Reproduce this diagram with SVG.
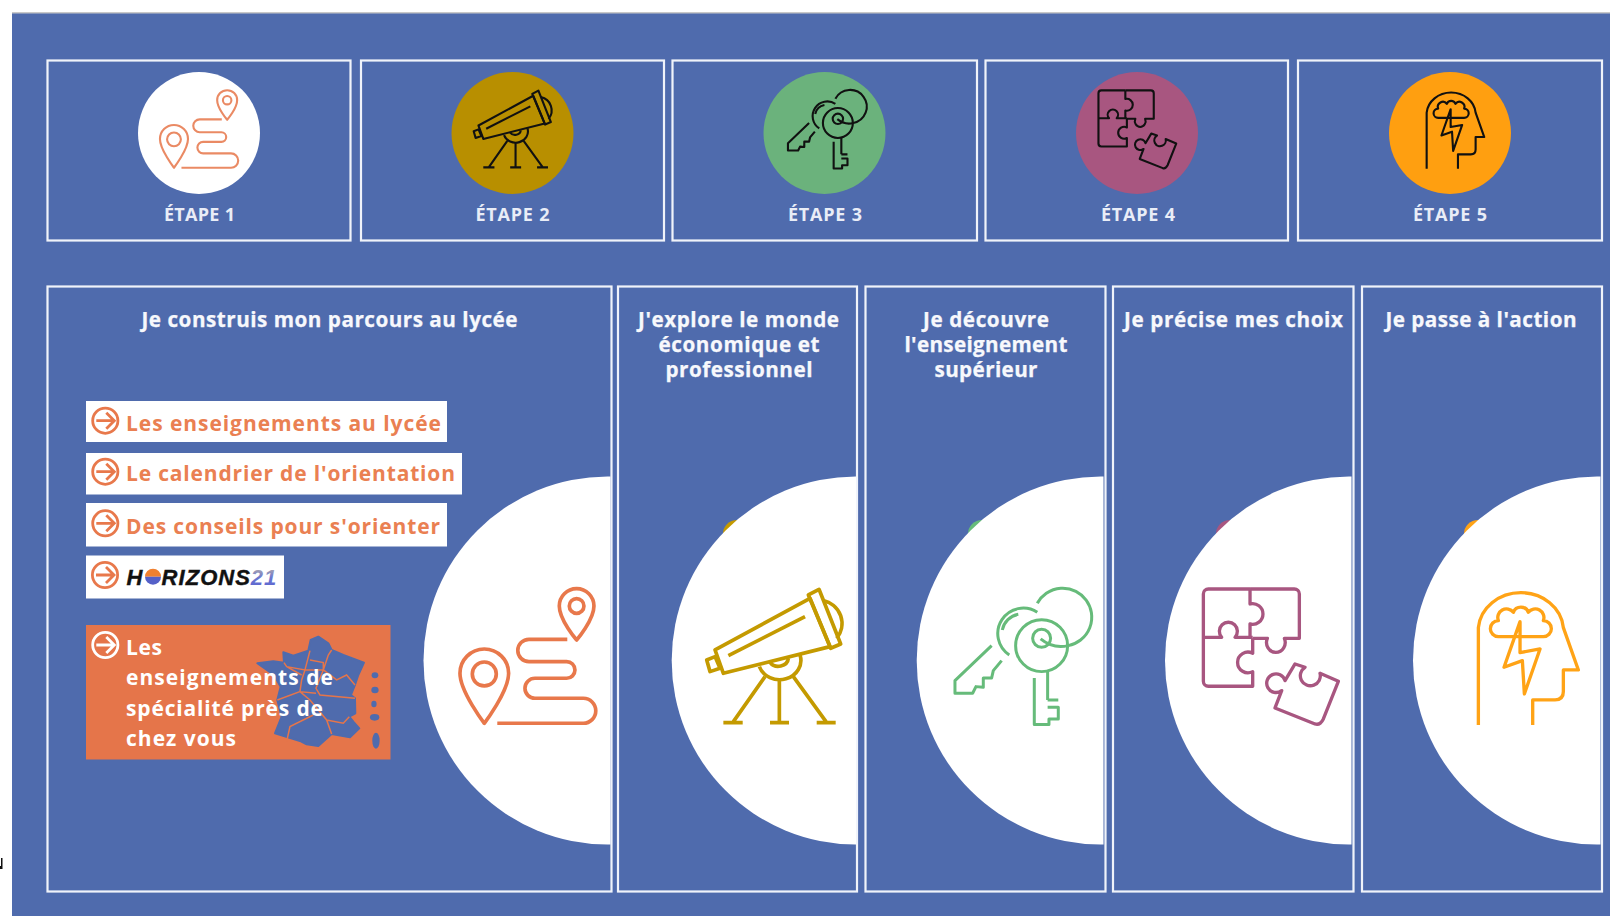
<svg xmlns="http://www.w3.org/2000/svg" width="1610" height="916" viewBox="0 0 1610 916">
<style>
.box{fill:none;stroke:#f0f3fa;stroke-width:2.2}
.step{font:700 18px "Open Sans","Liberation Sans",sans-serif;fill:#e9edf7;text-anchor:middle}
.title{font:700 20.700px "Open Sans","Liberation Sans",sans-serif;fill:#f7f8fc;text-anchor:middle;stroke:#f7f8fc;stroke-width:.25}
.item{font:700 21px "Open Sans","Liberation Sans",sans-serif;fill:#ea8052}
.itemw{font:700 21px "Open Sans","Liberation Sans",sans-serif;fill:#fff}
.ic{fill:none;stroke-width:11;stroke-linejoin:round;stroke-linecap:butt}
.logo{font:italic 700 22px "Liberation Sans",Arial,sans-serif;fill:#111;stroke:#111;stroke-width:.4}
.region{fill:none;stroke:#e5754a;stroke-width:4.500}
</style>
<defs>
<linearGradient id="g21" x1="0" y1="0" x2="0" y2="1"><stop offset="0" stop-color="#c9b9a0"/><stop offset=".5" stop-color="#6a78d0"/><stop offset="1" stop-color="#5a5fd0"/></linearGradient>
<g id="arrow" fill="none" stroke-width="2.800"><circle r="12.600"/><path d="M-9 0H8M1-8L9 0L1 8"/></g>
<g id="i-road">
<path d="M78 405C78 405 5 310 5 255A73 73 0 0 1 151 255C151 310 78 405 78 405Z"/><circle cx="78" cy="257" r="36"/>
<path d="M355 155C355 155 303 95 303 53A52 52 0 0 1 407 53C407 95 355 155 355 155Z"/><circle cx="355" cy="53" r="22"/>
<path d="M327 153H212A33.500 33.500 0 0 0 212 220H325A25 25 0 0 1 325 270H230A30 30 0 0 0 230 330H375A37.500 37.500 0 0 1 375 405H117"/>
</g>
<g id="i-tele">
<path d="M25 185L310 30L370 175L50 255Z"/><path d="M0 215L25 205L40 240L10 250Z"/><path d="M305 20L337 3L402 167L372 180Z"/>
<path d="M350 37A70 70 0 0 1 390 150"/><path d="M65 202L295 85"/>
<path d="M158 235A64 58 0 0 0 280 200"/><path d="M190 222A30 26 0 0 0 245 210"/>
<path d="M175 265L80 400M218 275V400M260 265L358 400M50 403H108M190 403H247M330 403H387"/>
</g>
<g id="i-keys">
<path d="M252 45A87 87 0 1 1 345 172C320 178 290 175 262 152"/>
<path d="M252 72A75 75 0 1 0 168 200"/><path d="M195 78A60 60 0 0 0 147 125"/>
<path d="M115 172L5 277V315H58L68 295L90 297V269H115L120 247L145 217"/>
<circle cx="265" cy="172" r="78"/><circle cx="265" cy="150" r="27"/>
<path d="M243 269V409H287V392H315V357H283M283 335H315M283 247V335"/>
</g>
<g id="i-puzz">
<path d="M145 2H278A15 15 0 0 1 293 17V150H248A28 30 0 1 1 197 150H153"/>
<path d="M145 2H20A15 15 0 0 0 5 17V279A15 15 0 0 0 20 294H153V250A31 31 0 1 1 153 195V150"/>
<path d="M145 2V47A31 31 0 1 1 145 107V150"/>
<path d="M5 147H60A27 27 0 1 1 100 147H153"/>
<path d="M250 277L280 227L310 237A30 30 0 1 0 355 255L410 279L365 392Q355 412 340 407L220 359L240 307A28 28 0 1 1 250 277Z"/>
</g>
<g id="i-head">
<path d="M5 410V118A128 115 0 0 1 260 118L305 245H260V310Q260 335 235 335H168V410"/>
<path d="M65 145A24 24 0 0 1 65 97A26 26 0 0 1 110 72A24 24 0 0 1 155 72A26 26 0 0 1 200 97A24 24 0 0 1 200 145Z"/>
<path d="M130 100L82 237L137 217L143 317L190 182L130 193Z"/>
</g>
</defs>

<rect width="1610" height="916" fill="#fff"/>
<rect x="12" y="13" width="1598" height="903" fill="#4f6bad"/>
<rect x="12" y="12" width="1598" height="1.500" fill="#c8c8c8"/>
<path d="M0 858H2.500V869H0V866H1V858H0Z" fill="#111"/>

<g id="step1"><rect class="box" x="47.500" y="60.500" width="303" height="180"/><circle cx="199" cy="133" r="61" fill="#fff"/><use href="#i-road" class="ic" stroke="#ea8a64" transform="translate(159 90) scale(.192)"/><text class="step" x="199.500" y="221" textLength="71">ÉTAPE 1</text></g>
<g id="step2"><rect class="box" x="361" y="60.500" width="303" height="180"/><circle cx="512.500" cy="133" r="61" fill="#b88f00"/><use href="#i-tele" class="ic" stroke="#111" transform="translate(473.700 90) scale(.192)"/><text class="step" x="512.500" y="221" textLength="74">ÉTAPE 2</text></g>
<g id="step3"><rect class="box" x="672.500" y="60.500" width="304.500" height="180"/><circle cx="824.500" cy="133" r="61" fill="#6bb27c"/><use href="#i-keys" class="ic" stroke="#111" transform="translate(787 90) scale(.192)"/><text class="step" x="825" y="221" textLength="74">ÉTAPE 3</text></g>
<g id="step4"><rect class="box" x="985.500" y="60.500" width="302.500" height="180"/><circle cx="1137" cy="133" r="61" fill="#a85680"/><use href="#i-puzz" class="ic" stroke="#111" transform="translate(1097.500 90) scale(.192)"/><text class="step" x="1138" y="221" textLength="74">ÉTAPE 4</text></g>
<g id="step5"><rect class="box" x="1298" y="60.500" width="304" height="180"/><circle cx="1450" cy="133" r="61" fill="#ff9f10"/><use href="#i-head" class="ic" stroke="#111" transform="translate(1425.700 90) scale(.192)"/><text class="step" x="1450" y="221" textLength="74">ÉTAPE 5</text></g>

<g id="panel1">
<rect class="box" x="47.500" y="286.500" width="564" height="605"/>
<path d="M610.500 476.500H607.500A184 184 0 0 0 607.500 844.500H610.500Z" fill="#fff"/>
<use href="#i-road" class="ic" stroke="#e8784b" transform="translate(458.300 588.300) scale(.3333)"/>
<text class="title" x="329.500" y="326.500" textLength="376">Je construis mon parcours au lycée</text>
</g>
<g id="link1"><rect x="86" y="401" width="361" height="41" fill="#fff"/><use href="#arrow" stroke="#e8784b" x="105.300" y="420.700"/><text class="item" x="126" y="431" textLength="315">Les enseignements au lycée</text></g>
<g id="link2"><rect x="86" y="453" width="376" height="41.500" fill="#fff"/><use href="#arrow" stroke="#e8784b" x="105.300" y="471.700"/><text class="item" x="126" y="481" textLength="329">Le calendrier de l'orientation</text></g>
<g id="link3"><rect x="86" y="503" width="361" height="43.500" fill="#fff"/><use href="#arrow" stroke="#e8784b" x="105.300" y="523.300"/><text class="item" x="126" y="533.500" textLength="314">Des conseils pour s'orienter</text></g>
<g id="link4"><rect x="86" y="555.500" width="198" height="43" fill="#fff"/><use href="#arrow" stroke="#e8784b" x="105" y="575"/>
<text class="logo" x="126.500" y="585" textLength="18">H</text>
<path d="M145 576.700A8 8 0 0 1 161 576.700Z" fill="#f08030"/><path d="M145 576.700A8 8 0 0 0 161 576.700Z" fill="#5560c8"/>
<text class="logo" x="161.500" y="585" textLength="88.500">RIZONS</text><text class="logo" x="250.700" y="585" style="fill:url(#g21);stroke:none" textLength="25.500">21</text></g>
<g id="link5"><rect x="86" y="625" width="304.500" height="134.500" fill="#e5754a"/>
<g transform="translate(60 380) scale(.3333)">
<path fill="#4f6bad" stroke="#4f6bad" stroke-width="6" stroke-linejoin="round" d="M592 850L640 844L672 848L670 817L700 827L745 812L752 780L775 770L805 790L815 810L850 825L912 848L895 885L885 915L873 945L885 955L886 1000L868 1010L880 1025L898 1045L870 1072L815 1062L775 1098L740 1093L720 1083L645 1060L665 1010L652 960L662 920L642 885Z"/>
<g fill="#4f6bad"><ellipse cx="945" cy="886" rx="10" ry="9"/><ellipse cx="945" cy="930" rx="11" ry="10"/><ellipse cx="942" cy="972" rx="8" ry="10"/><ellipse cx="944" cy="1012" rx="14" ry="10"/><ellipse cx="948" cy="1082" rx="11" ry="24"/></g>
<path class="region" d="M672 848L680 860L735 870L750 812M735 870L790 870L805 825L815 810M750 840L790 848L790 870L768 925L780 945L885 955M735 870L725 900L720 935L768 940M680 860L725 885M790 870L830 900L860 885L885 915M652 960L720 935L750 960L800 1020L815 1062M680 1085L690 1040L760 1005M800 1020L850 1030L868 1010"/>
</g>
<use href="#arrow" stroke="#fff" x="105.300" y="645"/>
<text class="itemw" x="126" y="655" textLength="36">Les</text><text class="itemw" x="126" y="685" textLength="207">enseignements de</text><text class="itemw" x="126" y="716" textLength="197">spécialité près de</text><text class="itemw" x="126" y="746" textLength="110">chez vous</text></g>

<g id="panel2">
<rect class="box" x="618" y="286.500" width="239" height="605"/>
<circle cx="737" cy="534" r="14" fill="#c49a00"/>
<path d="M856 476.500H855.700A184 184 0 0 0 855.700 844.500H856Z" fill="#fff"/>
<use href="#i-tele" class="ic" stroke="#c49a00" transform="translate(706.700 588.300) scale(.3333)"/>
<text class="title" x="738.500" y="326.500" textLength="201">J'explore le monde</text><text class="title" x="739" y="351.500" textLength="161">économique et</text><text class="title" x="739" y="377" textLength="147">professionnel</text>
</g>
<g id="panel3">
<rect class="box" x="865.500" y="286.500" width="240" height="605"/>
<circle cx="982" cy="534" r="14" fill="#66bb7a"/>
<path d="M1103.500 476.500H1100.700A184 184 0 0 0 1100.700 844.500H1103.500Z" fill="#fff"/>
<use href="#i-keys" class="ic" style="stroke-width:9" stroke="#66bb7a" transform="translate(953.300 588.300) scale(.3333)"/>
<text class="title" x="986" y="326.500" textLength="126">Je découvre</text><text class="title" x="986" y="351.500" textLength="163">l'enseignement</text><text class="title" x="986" y="377" textLength="103">supérieur</text>
</g>
<g id="panel4">
<rect class="box" x="1113" y="286.500" width="240.500" height="605"/>
<circle cx="1230" cy="534" r="14" fill="#a85680"/>
<path d="M1351.500 476.500H1349A184 184 0 0 0 1349 844.500H1351.500Z" fill="#fff"/>
<use href="#i-puzz" class="ic" style="stroke-width:10" stroke="#a85680" transform="translate(1201.700 588.300) scale(.3333)"/>
<text class="title" x="1233.500" y="326.500" textLength="219">Je précise mes choix</text>
</g>
<g id="panel5">
<rect class="box" x="1362" y="286.500" width="240" height="605"/>
<circle cx="1478" cy="534" r="14" fill="#ffa316"/>
<path d="M1600.500 476.500H1597A184 184 0 0 0 1597 844.500H1600.500Z" fill="#fff"/>
<use href="#i-head" class="ic" style="stroke-width:10" stroke="#ffa316" transform="translate(1476.700 588.300) scale(.3333)"/>
<text class="title" x="1481" y="326.500" textLength="191">Je passe à l'action</text>
</g>
</svg>
